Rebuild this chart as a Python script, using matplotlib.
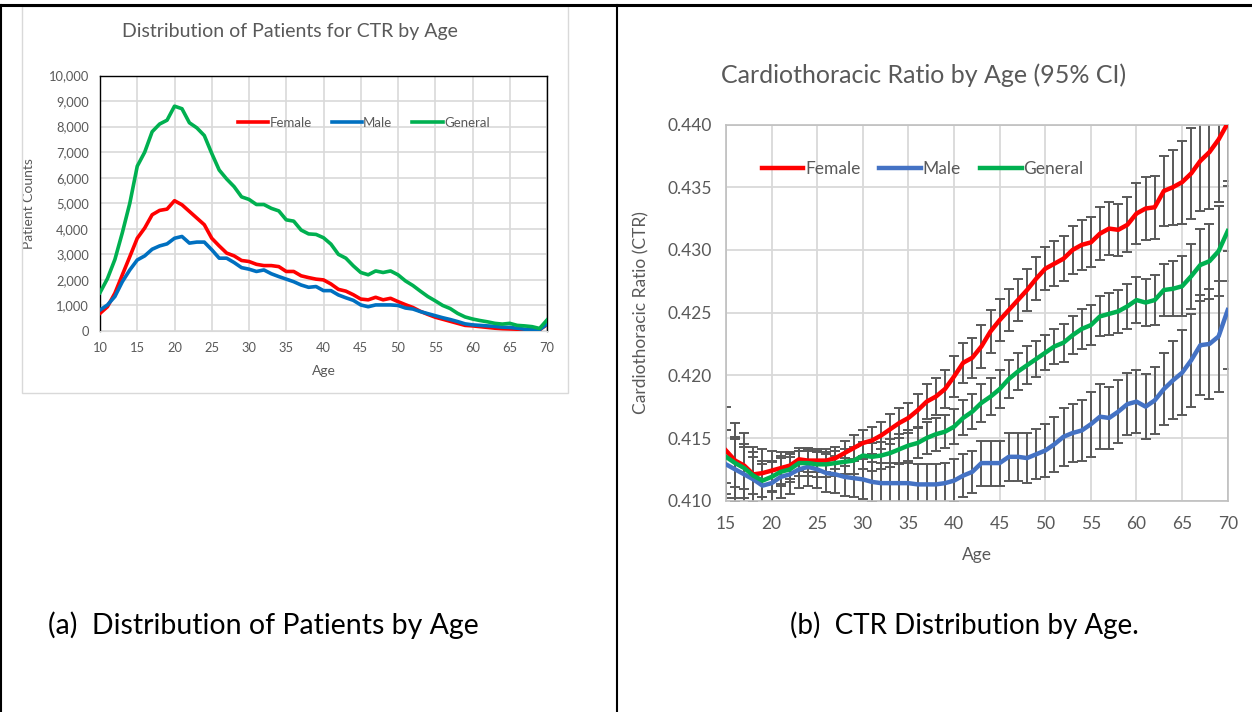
import matplotlib
matplotlib.use("Agg")
import matplotlib.pyplot as plt
from matplotlib.lines import Line2D
from matplotlib.patches import Rectangle

plt.rcParams['font.family'] = ['Lato', 'DejaVu Sans']

W, H = 1252, 712
GRAY_TXT = '#595959'
GRID = '#D9D9D9'
RED, BLUE, GREEN = '#FF0000', '#0070C0', '#00B050'
BLUE_B = '#4472C4'

# ---- panel (a): patient counts by age ----
ages_a = list(range(10, 71))
female_counts = [690, 950, 1480, 2200, 2910, 3630, 4030, 4550, 4720, 4770,
                 5100, 4940, 4680, 4420, 4160, 3630, 3330, 3050, 2940, 2760,
                 2720, 2610, 2560, 2560, 2520, 2330, 2330, 2160, 2090, 2030,
                 2000, 1840, 1630, 1560, 1420, 1250, 1220, 1320, 1220, 1280,
                 1150, 1030, 920, 770, 650, 540, 460, 380, 300, 220,
                 200, 170, 140, 110, 90, 80, 70, 50, 50, 50, 250]
male_counts = [820, 1020, 1350, 1930, 2390, 2780, 2940, 3200, 3330, 3410,
               3630, 3700, 3440, 3480, 3480, 3180, 2850, 2850, 2680, 2480,
               2420, 2330, 2390, 2240, 2130, 2030, 1930, 1800, 1710, 1740,
               1580, 1580, 1410, 1300, 1200, 1020, 950, 1020, 1020, 1020,
               1000, 900, 860, 760, 680, 600, 520, 450, 370, 280,
               240, 220, 200, 180, 150, 140, 110, 70, 60, 50, 270]
general_counts = [1500, 2050, 2800, 3850, 5000, 6450, 7000, 7800, 8100, 8250,
                  8800, 8700, 8150, 7950, 7650, 6950, 6300, 5950, 5650, 5250,
                  5150, 4950, 4950, 4800, 4700, 4350, 4300, 3950, 3800, 3780,
                  3650, 3400, 3000, 2850, 2550, 2290, 2200, 2350, 2290, 2350,
                  2200, 1960, 1780, 1560, 1350, 1180, 1000, 880, 690, 550,
                  470, 410, 360, 300, 270, 300, 220, 200, 170, 100, 430]

# ---- panel (b): CTR by age with 95% CI ----
ages_b = list(range(15, 71))
female_ctr = [.4140, .4132, .4128, .4121, .4122, .4124, .4126, .4128, .4133, .4132,
              .4132, .4132, .4134, .4138, .4142, .4146, .4148, .4152, .4157, .4162,
              .4166, .4172, .4179, .4183, .4189, .4199, .4210, .4214, .4223, .4235,
              .4244, .4252, .4260, .4268, .4277, .4285, .4289, .4293, .4300, .4304,
              .4306, .4313, .4317, .4316, .4320, .4329, .4333, .4334, .4347, .4350,
              .4354, .4361, .4371, .4378, .4388, .4401]
male_ctr = [.4129, .4125, .4121, .4117, .4112, .4114, .4119, .4121, .4125, .4127,
            .4125, .4122, .4121, .4119, .4118, .4117, .4115, .4114, .4114, .4114,
            .4114, .4113, .4113, .4113, .4114, .4116, .4120, .4123, .4130, .4130,
            .4130, .4135, .4135, .4134, .4137, .4140, .4145, .4151, .4154, .4156,
            .4161, .4167, .4166, .4171, .4177, .4179, .4175, .4180, .4189, .4196,
            .4202, .4212, .4224, .4225, .4231, .4252]
general_ctr = [.4135, .4130, .4126, .4120, .4116, .4119, .4123, .4125, .4130, .4130,
               .4129, .4129, .4130, .4131, .4132, .4136, .4135, .4136, .4138, .4141,
               .4144, .4146, .4150, .4153, .4155, .4159, .4166, .4171, .4178, .4183,
               .4189, .4197, .4203, .4208, .4213, .4218, .4223, .4226, .4232, .4237,
               .4240, .4247, .4249, .4251, .4255, .4260, .4258, .4260, .4268, .4269,
               .4271, .4279, .4288, .4291, .4299, .4315]
female_err = [.0035, .0030, .0026, .0022, .0019, .0016, .0013, .0011, .0009, .0009,
              .0009, .0009, .0009, .0010, .0010, .0010, .0011, .0011, .0012, .0012,
              .0012, .0013, .0014, .0015, .0015, .0016, .0016, .0016, .0017, .0017,
              .0017, .0017, .0017, .0017, .0017, .0017, .0018, .0018, .0019, .0020,
              .0020, .0021, .0021, .0021, .0022, .0024, .0025, .0025, .0028, .0030,
              .0033, .0036, .0040, .0045, .0050, .0050]
male_err = [.0027, .0026, .0024, .0022, .0020, .0018, .0017, .0016, .0015, .0015,
            .0015, .0015, .0015, .0015, .0015, .0016, .0016, .0016, .0016, .0016,
            .0016, .0016, .0016, .0016, .0016, .0017, .0017, .0017, .0018, .0018,
            .0018, .0019, .0019, .0020, .0020, .0021, .0022, .0023, .0023, .0024,
            .0026, .0026, .0025, .0025, .0025, .0025, .0026, .0027, .0029, .0031,
            .0034, .0037, .0040, .0044, .0044, .0047]
general_err = [.0021, .0019, .0017, .0015, .0013, .0012, .0011, .0010, .0010, .0010,
               .0010, .0010, .0010, .0010, .0011, .0011, .0011, .0011, .0011, .0012,
               .0012, .0012, .0013, .0013, .0013, .0014, .0014, .0014, .0015, .0015,
               .0015, .0015, .0015, .0015, .0014, .0014, .0014, .0015, .0015, .0016,
               .0016, .0016, .0017, .0017, .0018, .0018, .0019, .0020, .0021, .0022,
               .0024, .0026, .0029, .0030, .0036, .0040]


def px_axes(fig, x0, y0, x1, y1):
    # pixel box (top-left origin) -> figure axes
    return fig.add_axes([x0 / W, 1 - y1 / H, (x1 - x0) / W, (y1 - y0) / H])


def fx(x):
    return x / W


def fy(y):
    return 1 - y / H


fig = plt.figure(figsize=(W / 100, H / 100), dpi=100)

# table frame
fig.add_artist(Line2D([0, 1], [fy(4.5), fy(4.5)], color='black', lw=2.2))
fig.add_artist(Line2D([fx(1), fx(1)], [fy(4.5), 0], color='black', lw=1.5))
fig.add_artist(Line2D([fx(617), fx(617)], [fy(4.5), 0], color='black', lw=1.5))
# excel chart area border for panel (a)
fig.add_artist(Rectangle((fx(22), fy(393)), fx(568) - fx(22), fy(6) - fy(393),
                         fill=False, edgecolor=GRID, lw=1))

# ---------- left chart ----------
ax1 = px_axes(fig, 100, 75.5, 547, 331)
ax1.plot(ages_a, female_counts, color=RED, lw=2.6, label='Female', zorder=3)
ax1.plot(ages_a, male_counts, color=BLUE, lw=2.6, label='Male', zorder=3)
ax1.plot(ages_a, general_counts, color=GREEN, lw=2.6, label='General', zorder=3)
ax1.set_xlim(10, 70)
ax1.set_ylim(0, 10000)
ax1.set_xticks(range(10, 71, 5))
ax1.set_yticks(range(0, 10001, 1000))
ax1.set_yticklabels([f'{v:,}' for v in range(0, 10001, 1000)])
ax1.grid(True, color=GRID, lw=1.2, zorder=0)
ax1.set_axisbelow(True)
ax1.tick_params(length=0, labelsize=9.3, labelcolor=GRAY_TXT, pad=8)
for s in ['left', 'top', 'right']:
    ax1.spines[s].set_color('black')
    ax1.spines[s].set_linewidth(1)
ax1.spines['bottom'].set_color(GRID)
ax1.set_xlabel('Age', fontsize=10, color=GRAY_TXT, labelpad=8)
ax1.set_ylabel('Patient Counts', fontsize=10, color=GRAY_TXT, labelpad=10)
ax1.legend(loc='center', bbox_to_anchor=(0.59, 0.816), ncol=3, frameon=False,
           fontsize=9.5, labelcolor=GRAY_TXT, handlelength=2.3, handletextpad=0.1,
           columnspacing=1.5)
fig.text(fx(290), fy(31), 'Distribution of Patients for CTR by Age', ha='center',
         va='center', fontsize=14, color=GRAY_TXT)

# ---------- right chart ----------
ax2 = px_axes(fig, 726, 124.5, 1227.7, 500.7)
for vals, err in [(female_ctr, female_err), (male_ctr, male_err),
                  (general_ctr, general_err)]:
    ax2.errorbar(ages_b, vals, yerr=err, fmt='none', ecolor='#595959',
                 elinewidth=1.4, capsize=3.8, capthick=1.4, zorder=2)
ax2.plot(ages_b, female_ctr, color=RED, lw=3.2, label='Female', zorder=4)
ax2.plot(ages_b, male_ctr, color=BLUE_B, lw=3.2, label='Male', zorder=4)
ax2.plot(ages_b, general_ctr, color=GREEN, lw=3.2, label='General', zorder=4)
ax2.set_xlim(15, 70)
ax2.set_ylim(0.410, 0.440)
ax2.set_xticks(range(15, 71, 5))
ax2.set_yticks([0.410 + 0.005 * i for i in range(7)])
ax2.set_yticklabels([f'{0.410 + 0.005 * i:.3f}' for i in range(7)])
ax2.grid(True, color=GRID, lw=1.3, zorder=0)
ax2.set_axisbelow(True)
ax2.tick_params(length=0, labelsize=12.5, labelcolor=GRAY_TXT, pad=10)
ax2.tick_params(axis='x', pad=11)
for s in ax2.spines.values():
    s.set_color('#BFBFBF')
    s.set_linewidth(1.2)
ax2.set_xlabel('Age', fontsize=12.5, color=GRAY_TXT, labelpad=11)
ax2.set_ylabel('Cardiothoracic Ratio (CTR)', fontsize=12.5, color=GRAY_TXT, labelpad=13)
ax2.legend(loc='center', bbox_to_anchor=(0.392, 0.882), ncol=3, frameon=False,
           fontsize=12.5, labelcolor=GRAY_TXT, handlelength=2.4, handletextpad=0.1,
           columnspacing=1.1)
fig.text(fx(924), fy(75), 'Cardiothoracic Ratio by Age (95% CI)', ha='center',
         va='center', fontsize=18, color=GRAY_TXT)

# captions
fig.text(fx(48), fy(625), '(a)  Distribution of Patients by Age', ha='left',
         va='center', fontsize=20.5, color='black')
fig.text(fx(790), fy(625), '(b)  CTR Distribution by Age.', ha='left',
         va='center', fontsize=20, color='black')

fig.savefig('out.png', dpi=100)
